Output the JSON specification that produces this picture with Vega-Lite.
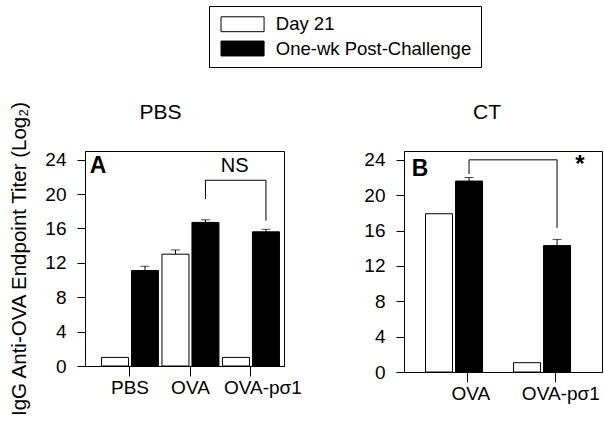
{
  "$schema": "https://vega.github.io/schema/vega-lite/v6.json",
  "padding": {"left": 9, "top": 5, "right": 2, "bottom": 5},
  "background": "white",
  "config": {
    "font": "Liberation Sans",
    "view": {"stroke": "black", "strokeWidth": 1},
    "axis": {"grid": false, "domainColor": "black", "tickColor": "black", "labelColor": "black", "titleColor": "black", "labelFont": "Liberation Sans", "titleFont": "Liberation Sans", "labelOverlap": false},
    "concat": {"spacing": 61}
  },
  "datasets": {
    "barsA": [
      {"group": "PBS", "time": "Day 21", "value": 1.0, "upper": null},
      {"group": "PBS", "time": "One-wk Post-Challenge", "value": 11.1, "upper": 11.6},
      {"group": "OVA", "time": "Day 21", "value": 13.0, "upper": 13.5},
      {"group": "OVA", "time": "One-wk Post-Challenge", "value": 16.7, "upper": 17.0},
      {"group": "OVA-pσ1", "time": "Day 21", "value": 1.0, "upper": null},
      {"group": "OVA-pσ1", "time": "One-wk Post-Challenge", "value": 15.6, "upper": 15.9}
    ],
    "barsB": [
      {"group": "OVA", "time": "Day 21", "value": 17.9, "upper": null},
      {"group": "OVA", "time": "One-wk Post-Challenge", "value": 21.6, "upper": 22.0},
      {"group": "OVA-pσ1", "time": "Day 21", "value": 1.05, "upper": null},
      {"group": "OVA-pσ1", "time": "One-wk Post-Challenge", "value": 14.3, "upper": 15.0}
    ],
    "bracketA": [
      {"group": "OVA", "time": "One-wk Post-Challenge", "value": 19.4, "ord": 1},
      {"group": "OVA", "time": "One-wk Post-Challenge", "value": 21.6, "ord": 2},
      {"group": "OVA-pσ1", "time": "One-wk Post-Challenge", "value": 21.6, "ord": 3},
      {"group": "OVA-pσ1", "time": "One-wk Post-Challenge", "value": 16.9, "ord": 4}
    ],
    "bracketB": [
      {"group": "OVA", "time": "One-wk Post-Challenge", "value": 22.4, "ord": 1},
      {"group": "OVA", "time": "One-wk Post-Challenge", "value": 24.0, "ord": 2},
      {"group": "OVA-pσ1", "time": "One-wk Post-Challenge", "value": 24.0, "ord": 3},
      {"group": "OVA-pσ1", "time": "One-wk Post-Challenge", "value": 16.3, "ord": 4}
    ]
  },
  "resolve": {"scale": {"fill": "shared"}, "legend": {"fill": "shared"}},
  "hconcat": [
    {
      "width": 199,
      "height": 215,
      "title": {"text": "PBS", "fontSize": 21, "fontWeight": "normal", "offset": -23, "dx": -24, "color": "black", "frame": "group"},
      "layer": [
        {
          "data": {"name": "barsA"},
          "mark": {"type": "bar", "stroke": "black", "strokeWidth": 1},
          "encoding": {
            "x": {"field": "group", "type": "nominal", "sort": ["PBS", "OVA", "OVA-pσ1"], "scale": {"paddingInner": 0, "paddingOuter": 0.145, "align": 0.84}, "axis": {"title": null, "labelAngle": 0, "labelFontSize": 19, "tickSize": 10, "labelPadding": 2, "labelOffset": {"condition": {"test": "datum.value === 'OVA-pσ1'", "value": 12}, "value": 0}}},
            "xOffset": {"field": "time", "type": "nominal", "sort": ["Day 21", "One-wk Post-Challenge"], "scale": {"paddingInner": 0.1, "paddingOuter": 0.058}},
            "y": {"field": "value", "type": "quantitative", "scale": {"domain": [0, 25], "nice": false}, "axis": {"values": [0, 4, 8, 12, 16, 20, 24], "tickCount": 12, "labelOverlap": false, "labelFontSize": 19, "tickSize": 8, "labelPadding": 11, "title": "IgG Anti-OVA Endpoint Titer (Log₂)", "titleFontSize": 20.5, "titleFontWeight": "normal", "titlePadding": 15}},
            "fill": {"field": "time", "type": "nominal", "sort": ["Day 21", "One-wk Post-Challenge"], "scale": {"domain": ["Day 21", "One-wk Post-Challenge"], "range": ["white", "black"]},
              "legend": {"title": null, "orient": "none", "legendX": 124, "legendY": -145, "direction": "vertical", "strokeColor": "black", "padding": 9, "symbolType": "M-2.6,-0.9H2.6V0.9H-2.6Z", "symbolSize": 274, "symbolOffset": 15.3, "symbolStrokeColor": "black", "symbolStrokeWidth": 1, "labelFontSize": 18.5, "labelFont": "Liberation Sans", "labelColor": "black", "rowPadding": 4.25, "labelOffset": 24, "labelLimit": 400}}
          }
        },
        {
          "data": {"name": "barsA"},
          "transform": [{"filter": "datum.upper != null"}],
          "mark": {"type": "rule", "color": "black", "strokeWidth": 1},
          "encoding": {
            "x": {"field": "group", "type": "nominal", "sort": ["PBS", "OVA", "OVA-pσ1"]},
            "xOffset": {"field": "time", "type": "nominal", "sort": ["Day 21", "One-wk Post-Challenge"]},
            "y": {"field": "value", "type": "quantitative", "axis": {"values": [0, 4, 8, 12, 16, 20, 24], "tickCount": 12, "labelOverlap": false, "labelFontSize": 19, "tickSize": 8, "labelPadding": 11, "title": "IgG Anti-OVA Endpoint Titer (Log₂)", "titleFontSize": 20.5, "titleFontWeight": "normal", "titlePadding": 15}},
            "y2": {"field": "upper"}
          }
        },
        {
          "data": {"name": "barsA"},
          "transform": [{"filter": "datum.upper != null"}],
          "mark": {"type": "tick", "color": "black", "size": 9, "thickness": 1, "orient": "horizontal"},
          "encoding": {
            "x": {"field": "group", "type": "nominal", "sort": ["PBS", "OVA", "OVA-pσ1"]},
            "xOffset": {"field": "time", "type": "nominal", "sort": ["Day 21", "One-wk Post-Challenge"]},
            "y": {"field": "upper", "type": "quantitative", "axis": {"values": [0, 4, 8, 12, 16, 20, 24], "tickCount": 12, "labelOverlap": false, "labelFontSize": 19, "tickSize": 8, "labelPadding": 11, "title": "IgG Anti-OVA Endpoint Titer (Log₂)", "titleFontSize": 20.5, "titleFontWeight": "normal", "titlePadding": 15}}
          }
        },
        {
          "data": {"name": "bracketA"},
          "mark": {"type": "line", "color": "black", "strokeWidth": 1},
          "encoding": {
            "x": {"field": "group", "type": "nominal", "sort": ["PBS", "OVA", "OVA-pσ1"]},
            "xOffset": {"field": "time", "type": "nominal", "sort": ["Day 21", "One-wk Post-Challenge"]},
            "y": {"field": "value", "type": "quantitative", "axis": {"values": [0, 4, 8, 12, 16, 20, 24], "tickCount": 12, "labelOverlap": false, "labelFontSize": 19, "tickSize": 8, "labelPadding": 11, "title": "IgG Anti-OVA Endpoint Titer (Log₂)", "titleFontSize": 20.5, "titleFontWeight": "normal", "titlePadding": 15}},
            "order": {"field": "ord", "type": "quantitative"}
          }
        },
        {
          "data": {"values": [{"label": "A"}]},
          "mark": {"type": "text", "fontSize": 23, "fontWeight": "bold", "align": "left", "baseline": "middle", "dx": -10, "color": "black"},
          "encoding": {
            "x": {"datum": "PBS", "bandPosition": 0},
            "y": {"datum": 23.2},
            "text": {"field": "label"}
          }
        },
        {
          "data": {"values": [{"label": "NS"}]},
          "mark": {"type": "text", "fontSize": 20, "align": "center", "baseline": "middle", "letterSpacing": 2, "color": "black"},
          "encoding": {
            "x": {"datum": "OVA-pσ1", "bandPosition": 0.23},
            "y": {"datum": 23.3},
            "text": {"field": "label"}
          }
        }
      ]
    },
    {
      "width": 198,
      "height": 221,
      "title": {"text": "CT", "fontSize": 21, "fontWeight": "normal", "offset": 28, "dx": -16, "color": "black", "frame": "group"},
      "layer": [
        {
          "data": {"name": "barsB"},
          "mark": {"type": "bar", "stroke": "black", "strokeWidth": 1},
          "encoding": {
            "x": {"field": "group", "type": "nominal", "sort": ["OVA", "OVA-pσ1"], "scale": {"paddingInner": 0, "paddingOuter": 0.125, "align": 0.9}, "axis": {"title": null, "labelAngle": 0, "labelFontSize": 19, "tickSize": 10, "labelPadding": 2, "labelOffset": {"condition": {"test": "datum.value === 'OVA-pσ1'", "value": 5}, "value": 3}}},
            "xOffset": {"field": "time", "type": "nominal", "sort": ["Day 21", "One-wk Post-Challenge"], "scale": {"paddingInner": 0.136, "paddingOuter": 0.068}},
            "y": {"field": "value", "type": "quantitative", "scale": {"domain": [0, 25], "nice": false}, "axis": {"values": [0, 4, 8, 12, 16, 20, 24], "tickCount": 12, "labelOverlap": false, "labelFontSize": 19, "tickSize": 8, "labelPadding": 11, "title": null}},
            "fill": {"field": "time", "type": "nominal", "sort": ["Day 21", "One-wk Post-Challenge"], "scale": {"domain": ["Day 21", "One-wk Post-Challenge"], "range": ["white", "black"]},
              "legend": {"title": null, "orient": "none", "legendX": 124, "legendY": -145, "direction": "vertical", "strokeColor": "black", "padding": 9, "symbolType": "M-2.6,-0.9H2.6V0.9H-2.6Z", "symbolSize": 274, "symbolOffset": 15.3, "symbolStrokeColor": "black", "symbolStrokeWidth": 1, "labelFontSize": 18.5, "labelFont": "Liberation Sans", "labelColor": "black", "rowPadding": 4.25, "labelOffset": 24, "labelLimit": 400}}
          }
        },
        {
          "data": {"name": "barsB"},
          "transform": [{"filter": "datum.upper != null"}],
          "mark": {"type": "rule", "color": "black", "strokeWidth": 1},
          "encoding": {
            "x": {"field": "group", "type": "nominal", "sort": ["OVA", "OVA-pσ1"]},
            "xOffset": {"field": "time", "type": "nominal", "sort": ["Day 21", "One-wk Post-Challenge"]},
            "y": {"field": "value", "type": "quantitative", "axis": {"values": [0, 4, 8, 12, 16, 20, 24], "tickCount": 12, "labelOverlap": false, "labelFontSize": 19, "tickSize": 8, "labelPadding": 11, "title": null}},
            "y2": {"field": "upper"}
          }
        },
        {
          "data": {"name": "barsB"},
          "transform": [{"filter": "datum.upper != null"}],
          "mark": {"type": "tick", "color": "black", "size": 9, "thickness": 1, "orient": "horizontal"},
          "encoding": {
            "x": {"field": "group", "type": "nominal", "sort": ["OVA", "OVA-pσ1"]},
            "xOffset": {"field": "time", "type": "nominal", "sort": ["Day 21", "One-wk Post-Challenge"]},
            "y": {"field": "upper", "type": "quantitative", "axis": {"values": [0, 4, 8, 12, 16, 20, 24], "tickCount": 12, "labelOverlap": false, "labelFontSize": 19, "tickSize": 8, "labelPadding": 11, "title": null}}
          }
        },
        {
          "data": {"name": "bracketB"},
          "mark": {"type": "line", "color": "black", "strokeWidth": 1},
          "encoding": {
            "x": {"field": "group", "type": "nominal", "sort": ["OVA", "OVA-pσ1"]},
            "xOffset": {"field": "time", "type": "nominal", "sort": ["Day 21", "One-wk Post-Challenge"]},
            "y": {"field": "value", "type": "quantitative", "axis": {"values": [0, 4, 8, 12, 16, 20, 24], "tickCount": 12, "labelOverlap": false, "labelFontSize": 19, "tickSize": 8, "labelPadding": 11, "title": null}},
            "order": {"field": "ord", "type": "quantitative"}
          }
        },
        {
          "data": {"values": [{"label": "B"}]},
          "mark": {"type": "text", "fontSize": 23, "fontWeight": "bold", "align": "left", "baseline": "middle", "dx": -12, "color": "black"},
          "encoding": {
            "x": {"datum": "OVA", "bandPosition": 0},
            "y": {"datum": 23.0},
            "text": {"field": "label"}
          }
        },
        {
          "data": {"values": [{"label": "*"}]},
          "mark": {"type": "text", "fontSize": 24, "fontWeight": "bold", "align": "left", "baseline": "middle", "color": "black"},
          "encoding": {
            "x": {"datum": "OVA-pσ1", "bandPosition": 0.72},
            "y": {"datum": 23.4},
            "text": {"field": "label"}
          }
        }
      ]
    }
  ]
}
